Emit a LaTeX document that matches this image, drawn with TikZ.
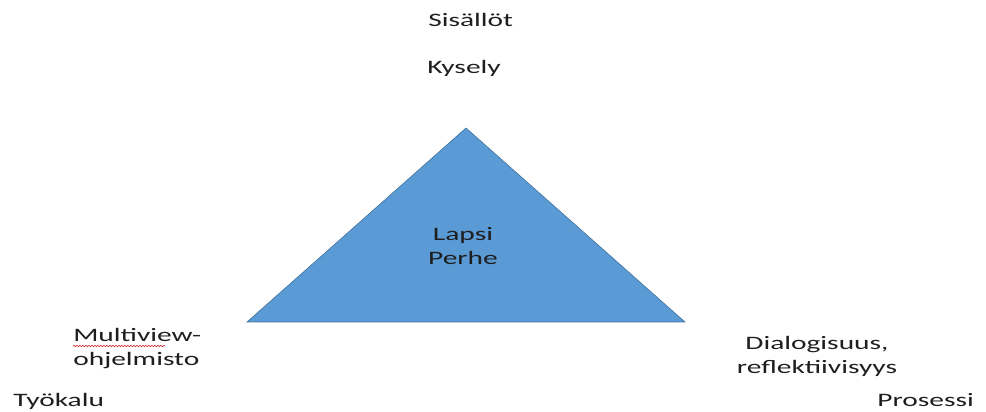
\documentclass[tikz,border=0pt]{standalone}
\usepackage{fontspec}
\setmainfont{Carlito}
\usetikzlibrary{decorations.pathmorphing}

\definecolor{triblue}{HTML}{5B9BD5}
\definecolor{triedge}{HTML}{41719C}
\definecolor{txtgray}{HTML}{1E1E1E}

\tikzset{
  lbl/.style={font=\fontsize{19}{24}\selectfont, text=txtgray, inner sep=0pt,
    xscale=1.55, transform shape},
  squiggle/.style={draw=red!80!black, line width=0.5pt, decorate,
    decoration={snake, amplitude=0.6pt, segment length=3pt}},
}

\begin{document}
\begin{tikzpicture}[x=1pt, y=1pt]
    \useasboundingbox (0,0) rectangle (986,412);
    % triangle
    \coordinate (apex) at (466,284);
    \coordinate (left) at (247,90);
    \coordinate (right) at (685,90);
    \filldraw[fill=triblue, draw=triedge, line width=0.6pt]
        (apex) -- (left) -- (right) -- cycle;

    \node[lbl, anchor=base west] (sisallot) at (428,385) {Sisällöt};
    \node[lbl, anchor=base west] (kysely) at (427,338) {Kysely};
    \node[lbl, align=center] (lapsi) at (463,166) {Lapsi\\Perhe};

    \node[lbl, align=left, anchor=north west] (multiview) at (73,84)
        {Multiview-\\ohjelmisto};
    \draw[squiggle] (multiview.north west) ++(0,-18) coordinate (sqa)
        -- ++(92,0) coordinate (sqb);
    \node[lbl, align=center, anchor=north] (dialogi) at (817,76)
        {Dialogisuus,\\reflektiivisyys};

    \node[lbl, anchor=base west] (tyokalu) at (13,5) {Työkalu};
    \node[lbl, anchor=base west] (prosessi) at (877,5) {Prosessi};
\end{tikzpicture}
\end{document}
